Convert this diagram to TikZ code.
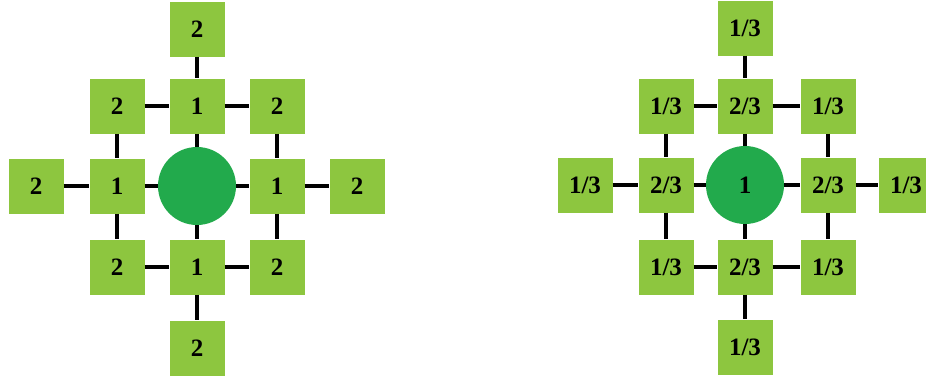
\documentclass[tikz,border=0pt]{standalone}
\usepackage{fontspec}
\setmainfont{Liberation Serif}
\definecolor{sqgreen}{RGB}{141,198,63}
\definecolor{cgreen}{RGB}{34,170,76}
\begin{document}
\begin{tikzpicture}[x=1pt,y=-1pt,
  sq/.style={rectangle,fill=sqgreen,minimum size=55pt,inner sep=0pt,font=\fontsize{25}{25}\selectfont\bfseries},
  hub/.style={circle,fill=cgreen,minimum size=78pt,inner sep=0pt,font=\fontsize{25}{25}\selectfont\bfseries},
  link/.style={line width=4pt,black}]
\useasboundingbox (0,0) rectangle (926,381);
% left panel
\begin{scope}[shift={(197,186)}]
\node[hub] (Lc) at (0,0) {};
\node[sq] (Lt1) at (0,-80) {1};
\node[sq] (Lb1) at (0,81) {1};
\node[sq] (Ll1) at (-80,0) {1};
\node[sq] (Lr1) at (80,0) {1};
\node[sq] (Lt2) at (0,-157) {2};
\node[sq] (Lb2) at (0,162) {2};
\node[sq] (Ll2) at (-161,0) {2};
\node[sq] (Lr2) at (160,0) {2};
\node[sq] (Ltl) at (-80,-80) {2};
\node[sq] (Ltr) at (80,-80) {2};
\node[sq] (Lbl) at (-80,81) {2};
\node[sq] (Lbr) at (80,81) {2};
\end{scope}
% right panel
\begin{scope}[shift={(745,185)}]
\node[hub] (Rc) at (0,0) {1};
\node[sq] (Rt1) at (0,-79) {2/3};
\node[sq] (Rb1) at (0,82) {2/3};
\node[sq] (Rl1) at (-79,0) {2/3};
\node[sq] (Rr1) at (83,0) {2/3};
\node[sq] (Rt2) at (0,-157) {1/3};
\node[sq] (Rb2) at (0,162) {1/3};
\node[sq] (Rl2) at (-160,0) {1/3};
\node[sq] (Rr2) at (161,0) {1/3};
\node[sq] (Rtl) at (-79,-79) {1/3};
\node[sq] (Rtr) at (83,-79) {1/3};
\node[sq] (Rbl) at (-79,82) {1/3};
\node[sq] (Rbr) at (83,82) {1/3};
\end{scope}
\foreach \p in {L,R}{
  \draw[link] (\p t2) -- (\p t1);
  \draw[link] (\p t1) -- (\p c);
  \draw[link] (\p c) -- (\p b1);
  \draw[link] (\p b1) -- (\p b2);
  \draw[link] (\p l2) -- (\p l1);
  \draw[link] (\p l1) -- (\p c);
  \draw[link] (\p c) -- (\p r1);
  \draw[link] (\p r1) -- (\p r2);
  \draw[link] (\p tl) -- (\p t1);
  \draw[link] (\p t1) -- (\p tr);
  \draw[link] (\p bl) -- (\p b1);
  \draw[link] (\p b1) -- (\p br);
  \draw[link] (\p tl) -- (\p l1);
  \draw[link] (\p l1) -- (\p bl);
  \draw[link] (\p tr) -- (\p r1);
  \draw[link] (\p r1) -- (\p br);
}
\end{tikzpicture}
\end{document}
